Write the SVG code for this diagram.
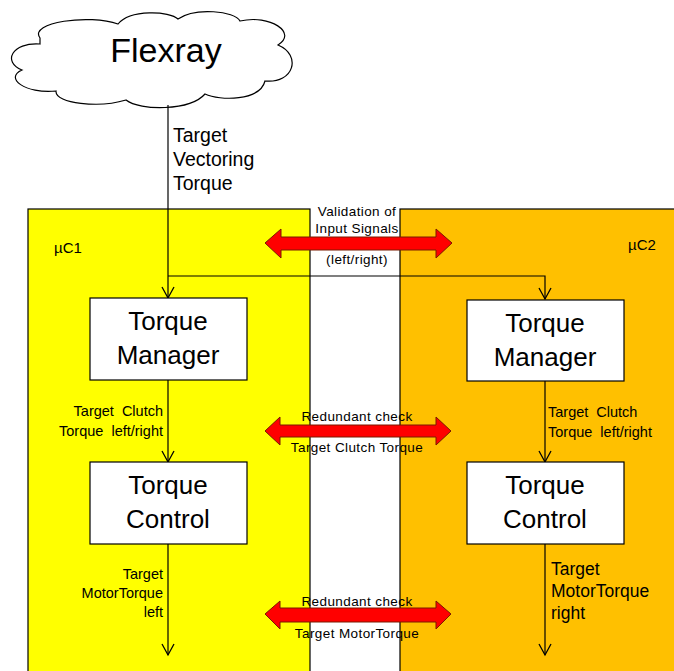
<svg xmlns="http://www.w3.org/2000/svg" width="674" height="671" viewBox="0 0 674 671">
<defs>
<style>
text{font-family:"Liberation Sans",Arial,sans-serif;fill:#000}
.line{stroke:#000;stroke-width:1.2;fill:none}
.box{fill:#fff;stroke:#000;stroke-width:1.2}
.big{font-size:26px;text-anchor:middle}
.sm{font-size:13.5px;letter-spacing:0.4px;text-anchor:middle}
.red{fill:#ff0000;stroke:#7a1a00;stroke-width:1}
</style>
<marker id="v" markerWidth="14" markerHeight="14" refX="12" refY="7" orient="auto" markerUnits="userSpaceOnUse" viewBox="0 0 14 14">
<polyline points="1,1 12,7 1,13" fill="none" stroke="#000" stroke-width="1.3"/>
</marker>
</defs>
<rect width="674" height="671" fill="#fff"/>
<g id="uc1">
<rect x="28" y="209" width="282" height="470" fill="#ffff00" stroke="#000" stroke-width="1.2"/>
<text x="54" y="253" font-size="15">µC1</text>
</g>
<g id="uc2">
<rect x="400" y="209" width="280" height="470" fill="#ffc000" stroke="#000" stroke-width="1.2"/>
<text x="628" y="250" font-size="15">µC2</text>
</g>
<g id="flexray">
<path d="M40,38 C28,22 90,14 118,24 C130,9 170,11 178,19 C195,7 235,11 240,21 C270,14 298,33 278,45 C302,55 294,84 265,81 C260,101 220,101 205,94 C190,111 140,111 126,100 C100,108 55,104 56,91 C25,94 4,78 22,70 C2,62 12,42 40,44 Z" fill="#fff" stroke="#000" stroke-width="1.2"/>
<text x="166" y="62" font-size="34" text-anchor="middle">Flexray</text>
</g>
<g id="connectors">
<polyline class="line" points="168,105 168,298" marker-end="url(#v)"/>
<polyline class="line" points="168,276 545,276 545,299" marker-end="url(#v)"/>
<line class="line" x1="168" y1="380" x2="168" y2="462" marker-end="url(#v)"/>
<line class="line" x1="545" y1="381" x2="545" y2="462" marker-end="url(#v)"/>
<line class="line" x1="168" y1="544" x2="168" y2="655" marker-end="url(#v)"/>
<line class="line" x1="545" y1="544" x2="545" y2="655" marker-end="url(#v)"/>
</g>
<g id="label-tvt" font-size="19.5">
<text x="173" y="142">Target</text>
<text x="173" y="166">Vectoring</text>
<text x="173" y="190">Torque</text>
</g>
<g id="torque-manager-1">
<rect class="box" x="90" y="298" width="157" height="82"/>
<text class="big" x="168" y="330">Torque</text>
<text class="big" x="168" y="364">Manager</text>
</g>
<g id="torque-manager-2">
<rect class="box" x="467" y="300" width="157" height="81"/>
<text class="big" x="545" y="332">Torque</text>
<text class="big" x="545" y="366">Manager</text>
</g>
<g id="torque-control-1">
<rect class="box" x="90" y="462" width="157" height="82"/>
<text class="big" x="168" y="494">Torque</text>
<text class="big" x="168" y="528">Control</text>
</g>
<g id="torque-control-2">
<rect class="box" x="467" y="462" width="157" height="82"/>
<text class="big" x="545" y="494">Torque</text>
<text class="big" x="545" y="528">Control</text>
</g>
<g id="labels-clutch" font-size="14.5" word-spacing="4">
<text x="163" y="416" text-anchor="end">Target Clutch</text>
<text x="163" y="436" text-anchor="end">Torque left/right</text>
<text x="548" y="417">Target Clutch</text>
<text x="548" y="437">Torque left/right</text>
</g>
<g id="labels-motor">
<text x="163" y="579" font-size="14.5" text-anchor="end">Target</text>
<text x="163" y="598" font-size="14.5" text-anchor="end">MotorTorque</text>
<text x="163" y="617" font-size="14.5" text-anchor="end">left</text>
<text x="551" y="575" font-size="17.5">Target</text>
<text x="551" y="597" font-size="17.5">MotorTorque</text>
<text x="551" y="619" font-size="17.5">right</text>
</g>
<g id="validation">
<polygon class="red" points="265,243 281,229 281,237 436,237 436,229 452,243 436,258 436,250 281,250 281,258"/>
<text class="sm" x="357" y="216">Validation of</text>
<text class="sm" x="357" y="233">Input Signals</text>
<text class="sm" x="357" y="264">(left/right)</text>
</g>
<g id="redundant-clutch">
<polygon class="red" points="265,431 280,417 280,425 436,425 436,417 451,431 436,445 436,437 280,437 280,445"/>
<text class="sm" x="357" y="421">Redundant check</text>
<text class="sm" x="357" y="452">Target Clutch Torque</text>
</g>
<g id="redundant-motor">
<polygon class="red" points="265,614 280,601 280,608 436,608 436,601 451,614 436,629 436,622 280,622 280,629"/>
<text class="sm" x="357" y="606">Redundant check</text>
<text class="sm" x="357" y="638">Target MotorTorque</text>
</g>
</svg>
